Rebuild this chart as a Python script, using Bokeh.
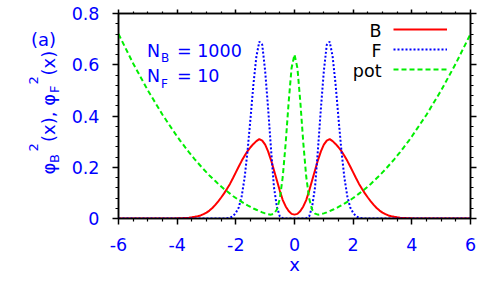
from math import pi
from bokeh.plotting import figure
from bokeh.layouts import row
from bokeh.models import (Range1d, FixedTicker, LinearAxis, NumeralTickFormatter,
                          Label, Legend, LegendItem)
from bokeh.core.properties import value
from bokeh.embed import file_html
from bokeh.resources import INLINE

# ---------------- data ----------------
x = [-6.0, -5.5, -5.0, -4.5,
     -4.0, -3.9, -3.8, -3.7, -3.6, -3.5, -3.4, -3.3, -3.2, -3.1,
     -3.0, -2.9, -2.8, -2.7, -2.6, -2.5, -2.4, -2.3, -2.2, -2.1,
     -2.0, -1.9, -1.8, -1.7, -1.6, -1.5, -1.4, -1.3, -1.2, -1.1,
     -1.0, -0.9, -0.8, -0.7, -0.6, -0.5, -0.4, -0.3, -0.2, -0.1,
     0.0,
     0.1, 0.2, 0.3, 0.4, 0.5, 0.6, 0.7, 0.8, 0.9, 1.0,
     1.1, 1.2, 1.3, 1.4, 1.5, 1.6, 1.7, 1.8, 1.9, 2.0,
     2.1, 2.2, 2.3, 2.4, 2.5, 2.6, 2.7, 2.8, 2.9, 3.0,
     3.1, 3.2, 3.3, 3.4, 3.5, 3.6, 3.7, 3.8, 3.9, 4.0,
     4.5, 5.0, 5.5, 6.0]

phi_B2 = [0.0, 0.0, 0.0, 0.0001,
          0.0008, 0.0012, 0.0017, 0.0024, 0.0034, 0.0047, 0.0065, 0.009, 0.012, 0.017,
          0.023, 0.031, 0.041, 0.053, 0.067, 0.082, 0.098, 0.116, 0.135, 0.157,
          0.180, 0.203, 0.225, 0.245, 0.263, 0.278, 0.291, 0.302, 0.310, 0.304,
          0.288, 0.262, 0.228, 0.188, 0.148, 0.108, 0.072, 0.047, 0.029, 0.018,
          0.015,
          0.018, 0.029, 0.047, 0.072, 0.108, 0.148, 0.188, 0.228, 0.262, 0.288,
          0.304, 0.310, 0.302, 0.291, 0.278, 0.263, 0.245, 0.225, 0.203, 0.180,
          0.157, 0.135, 0.116, 0.098, 0.082, 0.067, 0.053, 0.041, 0.031, 0.023,
          0.017, 0.012, 0.009, 0.0065, 0.0047, 0.0034, 0.0024, 0.0017, 0.0012, 0.0008,
          0.0001, 0.0, 0.0, 0.0]

phi_F2 = [0.0, 0.0, 0.0, 0.0,
          0.0, 0.0, 0.0, 0.0, 0.0, 0.0, 0.0, 0.0, 0.0, 0.0,
          0.0, 0.0, 0.0, 0.0, 0.0, 0.0, 0.0, 0.001, 0.003, 0.008,
          0.022, 0.043, 0.087, 0.160, 0.264, 0.391, 0.524, 0.632, 0.690, 0.678,
          0.575, 0.430, 0.270, 0.122, 0.045, 0.008, 0.001, 0.0, 0.0, 0.0,
          0.0,
          0.0, 0.0, 0.0, 0.001, 0.008, 0.045, 0.122, 0.270, 0.430, 0.575,
          0.678, 0.690, 0.632, 0.524, 0.391, 0.264, 0.160, 0.087, 0.043, 0.022,
          0.008, 0.003, 0.001, 0.0, 0.0, 0.0, 0.0, 0.0, 0.0, 0.0,
          0.0, 0.0, 0.0, 0.0, 0.0, 0.0, 0.0, 0.0, 0.0, 0.0,
          0.0, 0.0, 0.0, 0.0]

pot = [0.720, 0.605, 0.500, 0.405,
       0.320, 0.304, 0.289, 0.274, 0.259, 0.245, 0.231, 0.218, 0.205, 0.192,
       0.180, 0.168, 0.157, 0.146, 0.135, 0.125, 0.115, 0.106, 0.097, 0.088,
       0.080, 0.072, 0.065, 0.058, 0.051, 0.045, 0.039, 0.034, 0.029, 0.024,
       0.020, 0.017, 0.015, 0.019, 0.035, 0.078, 0.163, 0.295, 0.453, 0.587,
       0.640,
       0.587, 0.453, 0.295, 0.163, 0.078, 0.035, 0.019, 0.015, 0.017, 0.020,
       0.024, 0.029, 0.034, 0.039, 0.045, 0.051, 0.058, 0.065, 0.072, 0.080,
       0.088, 0.097, 0.106, 0.115, 0.125, 0.135, 0.146, 0.157, 0.168, 0.180,
       0.192, 0.205, 0.218, 0.231, 0.245, 0.259, 0.274, 0.289, 0.304, 0.320,
       0.405, 0.500, 0.605, 0.720]

x_ticks = [-6, -4, -2, 0, 2, 4, 6]
x_tick_labels = ["-6", "-4", "-2", "0", "2", "4", "6"]
x_minor = [-5.5, -5, -4.5, -3.5, -3, -2.5, -1.5, -1, -0.5, 0.5, 1, 1.5,
           2.5, 3, 3.5, 4.5, 5, 5.5]
y_ticks = [0, 0.2, 0.4, 0.6, 0.8]
y_tick_labels = ["0", "0.2", "0.4", "0.6", "0.8"]
y_minor = [0.04, 0.08, 0.12, 0.16, 0.24, 0.28, 0.32, 0.36, 0.44, 0.48, 0.52,
           0.56, 0.64, 0.68, 0.72, 0.76]
series_names = ["B", "F", "pot"]

# ---------------- styling ----------------
FONT = "DejaVu Sans"
BLUE = "#0000ff"
FS = "17.5px"
SFS = "12px"

p = figure(width=434, height=285, output_backend="svg", toolbar_location=None,
           x_range=Range1d(-6, 6), y_range=Range1d(0, 0.8),
           min_border_left=54, min_border_right=28, min_border_top=13,
           min_border_bottom=67, x_axis_location=None, y_axis_location=None)
p.grid.visible = False
p.outline_line_color = "black"
p.outline_line_width = 1.5
p.background_fill_color = "white"
p.border_fill_color = "white"

xt = FixedTicker(ticks=x_ticks, minor_ticks=x_minor)
yt = FixedTicker(ticks=y_ticks, minor_ticks=y_minor)


def style_axis(ax, tick_out, minor_out, show_labels):
    ax.axis_line_color = "black"
    ax.axis_line_width = 1.5
    ax.major_tick_line_color = "black"
    ax.minor_tick_line_color = "black"
    ax.major_tick_line_width = 1.5
    ax.minor_tick_line_width = 1.2
    ax.major_tick_in = 0
    ax.minor_tick_in = 0
    ax.major_tick_out = tick_out
    ax.minor_tick_out = minor_out
    if show_labels:
        ax.major_label_text_font = FONT
        ax.major_label_text_font_size = FS
        ax.major_label_text_color = BLUE
    else:
        ax.major_label_text_font_size = "1px"
        ax.major_label_standoff = 0


bx = LinearAxis(ticker=xt, formatter=NumeralTickFormatter(format="0"),
                major_label_overrides=dict(zip(x_ticks, x_tick_labels)),
                axis_label="x")
style_axis(bx, 6, 3, True)
bx.major_label_standoff = 13
bx.axis_label_text_font = FONT
bx.axis_label_text_font_size = "18px"
bx.axis_label_text_font_style = "normal"
bx.axis_label_text_color = BLUE
bx.axis_label_standoff = 0
p.add_layout(bx, "below")

ly = LinearAxis(ticker=yt, formatter=NumeralTickFormatter(format="0.[0]"),
                major_label_overrides=dict(zip(y_ticks, y_tick_labels)))
style_axis(ly, 6, 3, True)
ly.major_label_standoff = 13
p.add_layout(ly, "left")

tx = LinearAxis(ticker=xt, major_label_overrides={t: "" for t in x_ticks})
style_axis(tx, 4, 2, False)
p.add_layout(tx, "above")

ry = LinearAxis(ticker=yt, major_label_overrides={t: "" for t in y_ticks})
style_axis(ry, 6, 3, False)
p.add_layout(ry, "right")

rB = p.line(x, phi_B2, line_color="#ff0000", line_width=2)
rF = p.line(x, phi_F2, line_color="#0000ff", line_width=2, line_dash="2 2")
rP = p.line(x, pot, line_color="#00ee00", line_width=2, line_dash="5 3")

legend = Legend(items=[LegendItem(label=value(" "), renderers=[r]) for r in (rB, rF, rP)],
                location=(275, 139), glyph_width=54, glyph_height=20,
                label_width=0, label_height=20, label_standoff=0,
                label_text_font_size="1px", label_text_alpha=0,
                padding=0, margin=0, spacing=0,
                border_line_alpha=0, background_fill_alpha=0)
p.add_layout(legend)

for name, sy in zip(series_names, [188, 168, 148]):
    p.add_layout(Label(x=263, y=sy, x_units="screen", y_units="screen", text=name,
                       text_align="right", text_baseline="alphabetic",
                       text_font=FONT, text_font_size=FS, text_color="black"))


def lab(fig, sx, sy, text, size=FS, angle=0.0, color=BLUE, align="left"):
    fig.add_layout(Label(x=sx, y=sy, x_units="screen", y_units="screen", text=text,
                         angle=angle, text_align=align, text_baseline="alphabetic",
                         text_font=FONT, text_font_size=size, text_color=color))


# N_B = 1000 / N_F = 10
lab(p, 28.4, 168, "N")
lab(p, 42.5, 160.5, "B", SFS)
lab(p, 58.5, 168, "= 1000")
lab(p, 28.4, 142.3, "N")
lab(p, 42.5, 134.6, "F", SFS)
lab(p, 58.5, 142.3, "= 10")

# ---------------- left strip: panel tag and y-axis title ----------------
q = figure(width=64, height=285, output_backend="svg", toolbar_location=None,
           x_range=Range1d(0, 1), y_range=Range1d(0, 1),
           min_border_left=0, min_border_right=0, min_border_top=0,
           min_border_bottom=0, x_axis_location=None, y_axis_location=None)
q.grid.visible = False
q.outline_line_color = None
q.background_fill_color = "white"
q.border_fill_color = "white"

lab(q, 30.5, 179, "(a)", size="18px")

A = pi / 2
YS = "18px"
YSS = "13px"
b0, bsub, bsup = 48, 53.5, 32.5
lab(q, b0, 44, "\u03c6", YS, angle=A)
lab(q, bsub, 55.5, "B", YSS, angle=A)
lab(q, bsup, 67, "2", YSS, angle=A)
lab(q, b0, 76.5, "(x), \u03c6", YS, angle=A)
lab(q, bsub, 125.5, "F", YSS, angle=A)
lab(q, bsup, 134, "2", YSS, angle=A)
lab(q, b0, 143, "(x)", YS, angle=A)

layout = row(q, p)
open("out.html", "w").write(file_html(layout, INLINE))
